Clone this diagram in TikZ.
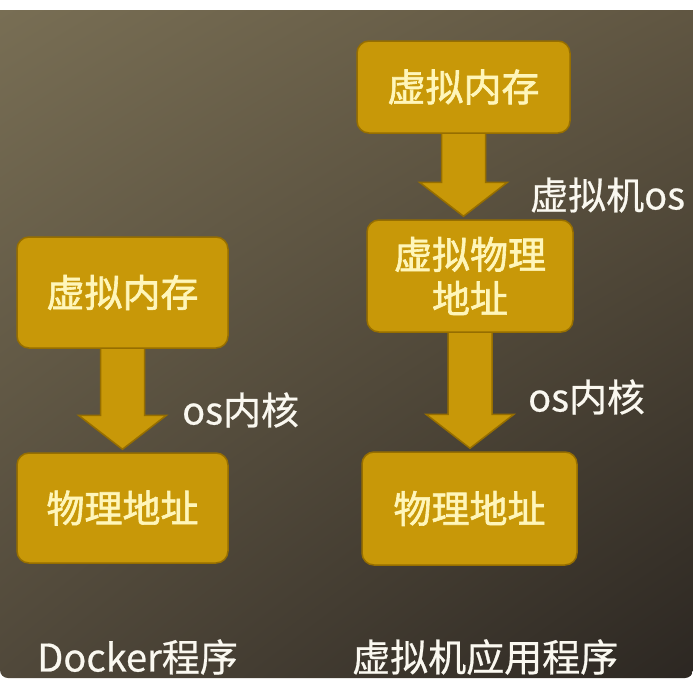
\documentclass[tikz,border=0pt]{standalone}
\usepackage{fontspec}
\setmainfont{Noto Sans CJK SC}
\newfontfamily\boxfont[FakeBold=1.6]{Noto Sans CJK SC}
\newfontfamily\lblfont[FakeBold=0.6]{Noto Sans CJK SC}
\usetikzlibrary{calc,shadings}
\definecolor{bgul}{RGB}{120,110,84}
\definecolor{bgur}{RGB}{96,86,66}
\definecolor{bgll}{RGB}{80,72,58}
\definecolor{bglr}{RGB}{44,39,34}
\definecolor{gold}{RGB}{200,152,8}
\definecolor{boxline}{RGB}{150,110,0}
\definecolor{boxtext}{RGB}{255,246,186}
\definecolor{lbltext}{RGB}{250,248,240}
\pgfdeclarelayer{bg}
\pgfsetlayers{bg,main}
\tikzstyle{box}=[rectangle,rounded corners=12pt,draw=boxline,line width=1.5pt,fill=gold,text=boxtext,font=\boxfont\fontsize{38}{44}\selectfont,align=center,inner sep=0pt]
\tikzstyle{lbl}=[anchor=west,text=lbltext,font=\lblfont\fontsize{38}{44}\selectfont,inner sep=0pt]
\tikzstyle{barrow}=[fill=gold,draw=boxline,line width=1.5pt,line join=miter]
\newcommand{\blockarrow}[2]{%
\path (#1.south |- #2.north) coordinate (tip);
\draw[barrow] ($(#1.south)+(-22,-4)$) -- ($(#1.south)+(22,-4)$) -- ($(tip)+(22,-37)$) -- ($(tip)+(44,-37)$) -- ($(tip)+(0,-3)$) -- ($(tip)+(-44,-37)$) -- ($(tip)+(-22,-37)$) -- cycle;}

\begin{document}
\begin{tikzpicture}[x=1pt,y=-1pt]
\useasboundingbox (0,0) rectangle (693,691);
\node[box,minimum width=211pt,minimum height=111pt] (lmem) at (122.5,292.5) {虚拟内存};
\node[box,minimum width=211pt,minimum height=110pt] (lphy) at (122.5,508) {物理地址};
\node[box,minimum width=213pt,minimum height=92pt] (rmem) at (463.5,87) {虚拟内存};
\node[box,minimum width=206pt,minimum height=112pt] (rvphy) at (470,276) {虚拟物理\\地址};
\node[box,minimum width=215pt,minimum height=113pt] (rphy) at (469.5,508.5) {物理地址};
\node[lbl] (lkern) at (182,410) {os内核};
\node[lbl] (rvos) at (530,195) {虚拟机os};
\node[lbl] (rkern) at (528,397) {os内核};
\node[lbl] (ldock) at (37,657) {Docker程序};
\node[lbl] (rapp) at (352,657) {虚拟机应用程序};
\begin{pgfonlayer}{bg}
\fill[white] (0,0) rectangle (693,691);
\shade[upper left=bgul,upper right=bgur,lower left=bgll,lower right=bglr] (0,10) -- (693,10) -- (693,400) [rounded corners=8pt] -- (693,678) -- (0,678) -- (0,400) [sharp corners] -- cycle;
\blockarrow{lmem}{lphy}
\blockarrow{rmem}{rvphy}
\blockarrow{rvphy}{rphy}
\end{pgfonlayer}
\end{tikzpicture}
\end{document}
